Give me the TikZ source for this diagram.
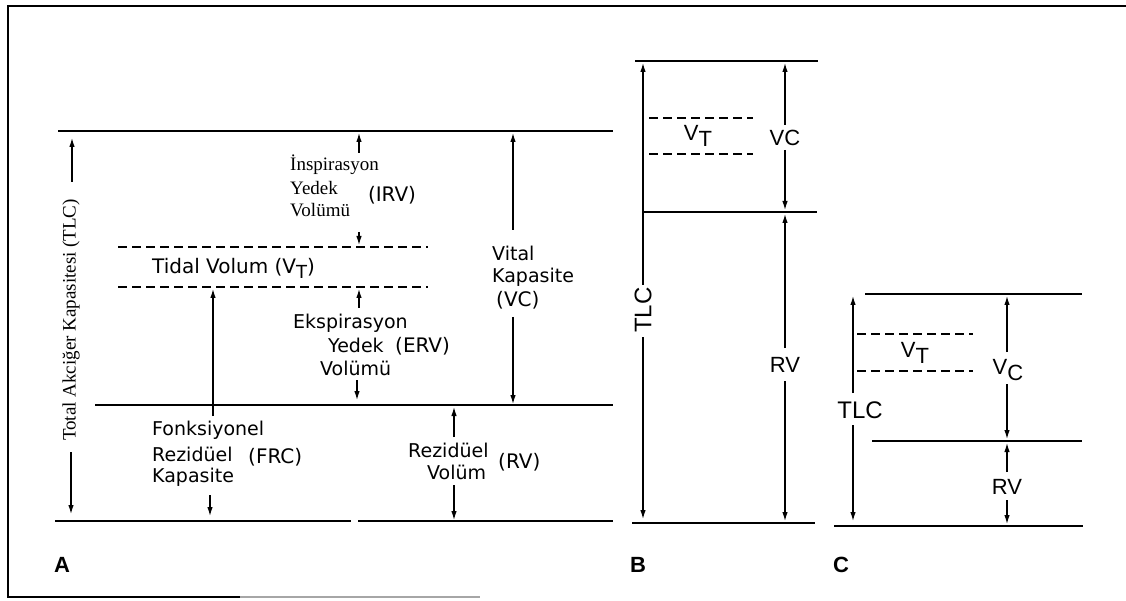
\documentclass[tikz,border=0pt]{standalone}
\usepackage{fontspec}
\setmainfont{DejaVu Sans}
\newfontfamily\serifA{Liberation Serif}
\newfontfamily\helv{Liberation Sans}
\usetikzlibrary{arrows.meta}
\newcommand{\fsz}[1]{\fontsize{#1}{#1}\selectfont}
\newcommand{\lowsub}[2]{\raisebox{-#1}{#2}}
\begin{document}
\begin{tikzpicture}[x=1pt,y=-1pt,
  solidln/.style={line width=1.6pt},
  dashln/.style={line width=1.1pt, dash pattern=on 9pt off 5pt},
  arr/.style={line width=1.2pt,-{Latex[length=9pt,width=5.5pt]}},
  sanslbl/.style={inner sep=0pt, font=\fsz{19}},
  abbr/.style={inner sep=0pt, font=\fsz{20}},
  seriflbl/.style={inner sep=0pt, font=\serifA\fsz{19}},
  bclbl/.style={inner sep=0pt, font=\helv\fsz{22}},
  panellbl/.style={inner sep=0pt, font=\helv\bfseries\fsz{22}}
]
\useasboundingbox (0,0) rectangle (1126,601);
% frame
\draw[line width=2pt] (1126,6) -- (8,6) -- (8,597) -- (240,597);
\draw[line width=1.5pt, black!35] (240,597) -- (480,597);

% ===== Panel A =====
\draw[solidln] (58,131) -- (613,131);
\draw[dashln] (118,247) -- (428,247);
\draw[dashln] (118,287) -- (428,287);
\draw[solidln] (95,405) -- (613,405);
\draw[solidln] (55,521) -- (351,521);
\draw[solidln] (358,521) -- (613,521);

% TLC (left, rotated)
\node[seriflbl, rotate=90] (tlcA) at (71,320) {Total Akciğer Kapasitesi (TLC)};
\coordinate (tlcAup1) at (72,182); \coordinate (tlcAup2) at (72,138);
\coordinate (tlcAdn1) at (71,452); \coordinate (tlcAdn2) at (71,514);
\draw[arr] (tlcAup1) -- (tlcAup2);
\draw[arr] (tlcAdn1) -- (tlcAdn2);

% IRV
\node[seriflbl, anchor=west] (irv1t) at (290,165) {İnspirasyon};
\node[seriflbl, anchor=west] (irv2t) at (290,188) {Yedek};
\node[seriflbl, anchor=west] (irv3t) at (290,210) {Volümü};
\node[abbr] (irvab) at (392,195) {(IRV)};
\coordinate (irv1) at (359,153); \coordinate (irv2) at (359,133);
\coordinate (irv3) at (359,232); \coordinate (irv4) at (359,245);
\draw[arr] (irv1) -- (irv2);
\draw[arr] (irv3) -- (irv4);

% Tidal volume
\node[sanslbl, anchor=west, font=\fsz{20}] (vtA) at (152,268) {Tidal Volum (V\lowsub{5pt}{\fsz{18}T})};

% ERV
\node[sanslbl, anchor=west] (erv1) at (293,323) {Ekspirasyon};
\node[sanslbl, anchor=west] (erv2) at (328,345) {Yedek};
\node[abbr, anchor=west] (ervab) at (395,346) {(ERV)};
\node[sanslbl, anchor=west] (erv3) at (320,368) {Volümü};
\coordinate (erva1) at (359,308); \coordinate (erva2) at (359,289);
\coordinate (erva3) at (357,380); \coordinate (erva4) at (357,400);
\draw[arr] (erva1) -- (erva2);
\draw[arr] (erva3) -- (erva4);

% FRC
\coordinate (frc1) at (213,416); \coordinate (frc2) at (213,289);
\draw[arr] (frc1) -- (frc2);
\node[sanslbl, anchor=west] (frcl1) at (152,430) {Fonksiyonel};
\node[sanslbl, anchor=west] (frcl2) at (152,454) {Rezidüel};
\node[abbr, anchor=west] (frcab) at (248,457) {(FRC)};
\node[sanslbl, anchor=west] (frcl3) at (152,477) {Kapasite};
\coordinate (frc3) at (210,495); \coordinate (frc4) at (210,516);
\draw[arr] (frc3) -- (frc4);

% RV (A)
\node[sanslbl, anchor=west] (rvAl1) at (408,450) {Rezidüel};
\node[sanslbl, anchor=west] (rvAl2) at (427,472) {Volüm};
\node[abbr, anchor=west] (rvAab) at (498,462) {(RV)};
\coordinate (rvA1) at (454,437); \coordinate (rvA2) at (454,407);
\coordinate (rvA3) at (454,485); \coordinate (rvA4) at (454,520);
\draw[arr] (rvA1) -- (rvA2);
\draw[arr] (rvA3) -- (rvA4);

% VC (A)
\node[sanslbl, anchor=west] (vcAl1) at (492,253) {Vital};
\node[sanslbl, anchor=west] (vcAl2) at (492,277) {Kapasite};
\node[abbr, anchor=west] (vcAl3) at (496,300) {(VC)};
\coordinate (vcA1) at (513,230); \coordinate (vcA2) at (513,133);
\coordinate (vcA3) at (513,317); \coordinate (vcA4) at (513,404);
\draw[arr] (vcA1) -- (vcA2);
\draw[arr] (vcA3) -- (vcA4);

\node[panellbl] (labA) at (62,565) {A};

% ===== Panel B =====
\draw[solidln] (635,61) -- (818,61);
\draw[solidln] (643,212) -- (817,212);
\draw[solidln] (632,523) -- (815,523);
\draw[dashln] (649,118) -- (753,118);
\draw[dashln] (649,154) -- (753,154);
\node[bclbl] (vtB) at (698,136) {V\lowsub{6pt}{T}};
% VC
\node[bclbl] (vcB) at (785,138) {VC};
\coordinate (vcB1) at (785,125); \coordinate (vcB2) at (785,63);
\coordinate (vcB3) at (785,150); \coordinate (vcB4) at (785,210);
\draw[arr] (vcB1) -- (vcB2);
\draw[arr] (vcB3) -- (vcB4);
% RV
\node[bclbl] (rvB) at (785,365) {RV};
\coordinate (rvB1) at (785,348); \coordinate (rvB2) at (785,214);
\coordinate (rvB3) at (785,381); \coordinate (rvB4) at (785,521);
\draw[arr] (rvB1) -- (rvB2);
\draw[arr] (rvB3) -- (rvB4);
% TLC
\node[bclbl, rotate=90, font=\helv\fsz{24}] (tlcB) at (643,310) {TLC};
\coordinate (tlcB1) at (643,285); \coordinate (tlcB2) at (643,63);
\coordinate (tlcB3) at (643,337); \coordinate (tlcB4) at (643,519);
\draw[arr] (tlcB1) -- (tlcB2);
\draw[arr] (tlcB3) -- (tlcB4);

\node[panellbl] (labB) at (638,565) {B};

% ===== Panel C =====
\draw[solidln] (865,294) -- (1082,294);
\draw[solidln] (872,441) -- (1082,441);
\draw[solidln] (834,526) -- (1083,526);
\draw[dashln] (857,334) -- (973,334);
\draw[dashln] (857,371) -- (973,371);
\node[bclbl] (vtC) at (915,353) {V\lowsub{6pt}{T}};
% TLC
\node[bclbl, font=\helv\fsz{24}] (tlcC) at (860,410) {TLC};
\coordinate (tlcC1) at (853,393); \coordinate (tlcC2) at (853,296);
\coordinate (tlcC3) at (853,425); \coordinate (tlcC4) at (853,521);
\draw[arr] (tlcC1) -- (tlcC2);
\draw[arr] (tlcC3) -- (tlcC4);
% VC
\node[bclbl] (vcC) at (1008,370) {V\lowsub{6pt}{C}};
\coordinate (vcC1) at (1007,352); \coordinate (vcC2) at (1007,296);
\coordinate (vcC3) at (1007,384); \coordinate (vcC4) at (1007,439);
\draw[arr] (vcC1) -- (vcC2);
\draw[arr] (vcC3) -- (vcC4);
% RV
\node[bclbl] (rvC) at (1007,487) {RV};
\coordinate (rvC1) at (1007,472); \coordinate (rvC2) at (1007,443);
\coordinate (rvC3) at (1007,500); \coordinate (rvC4) at (1007,524);
\draw[arr] (rvC1) -- (rvC2);
\draw[arr] (rvC3) -- (rvC4);

\node[panellbl] (labC) at (841,565) {C};
\end{tikzpicture}
\end{document}
